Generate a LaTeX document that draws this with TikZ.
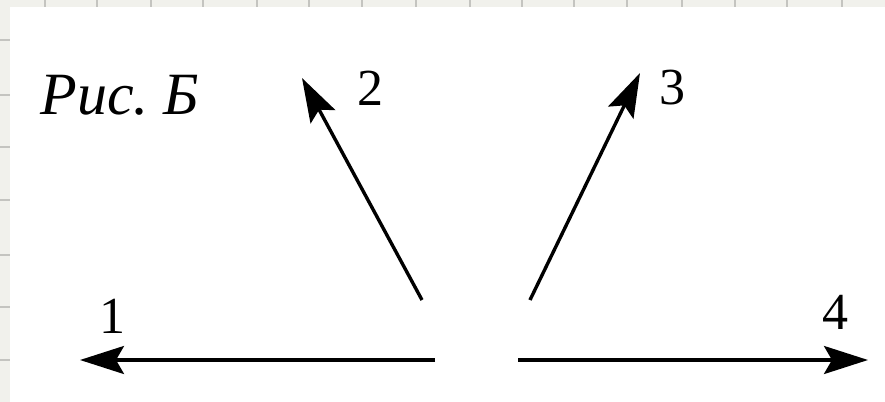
\documentclass[tikz,border=0pt]{standalone}
\usepackage{fontspec}
\setmainfont{Liberation Serif}
\usetikzlibrary{arrows.meta}
\definecolor{paper}{HTML}{F1F1EC}
\definecolor{gridline}{HTML}{C4C4C0}
\tikzset{
  vec/.style={line width=1.7pt, -{Stealth[length=22pt,width=14pt,inset=4pt]}},
  lbl/.style={inner sep=0pt, font=\fontsize{26}{30}\selectfont},
}
\begin{document}
\begin{tikzpicture}[x=0.5pt,y=-0.5pt]
\useasboundingbox (0,0) rectangle (885,402);
% squared paper background
\fill[paper] (0,0) rectangle (885,402);
\foreach \gx in {45,97,151,203,257,309,362,416,470,522,574,627,682,735,787,842}
  \draw[gridline,line width=1pt] (\gx,0) -- (\gx,7);
\foreach \gy in {40,95,147,200,255,307,360}
  \draw[gridline,line width=1pt] (0,\gy) -- (10,\gy);
\fill[white] (10,7) rectangle (885,402);
% caption
\node[lbl, anchor=west, font=\fontsize{30}{34}\selectfont\itshape] (cap) at (40,95) {Рис.\ Б};
% arrow end points
\coordinate (o1) at (435,360); \coordinate (e1) at (80,360);
\coordinate (o4) at (518,360); \coordinate (e4) at (868,360);
\coordinate (o2) at (422,300); \coordinate (e2) at (302,78);
\coordinate (o3) at (530,300); \coordinate (e3) at (640,73);
\draw[vec] (o1) -- (e1);
\draw[vec] (o4) -- (e4);
\draw[vec] (o2) -- (e2);
\draw[vec] (o3) -- (e3);
% labels
\node[lbl] (l1) at (112,316) {1};
\node[lbl] (l2) at (370,88) {2};
\node[lbl] (l3) at (672,88) {3};
\node[lbl] (l4) at (835,312) {4};
\end{tikzpicture}
\end{document}
